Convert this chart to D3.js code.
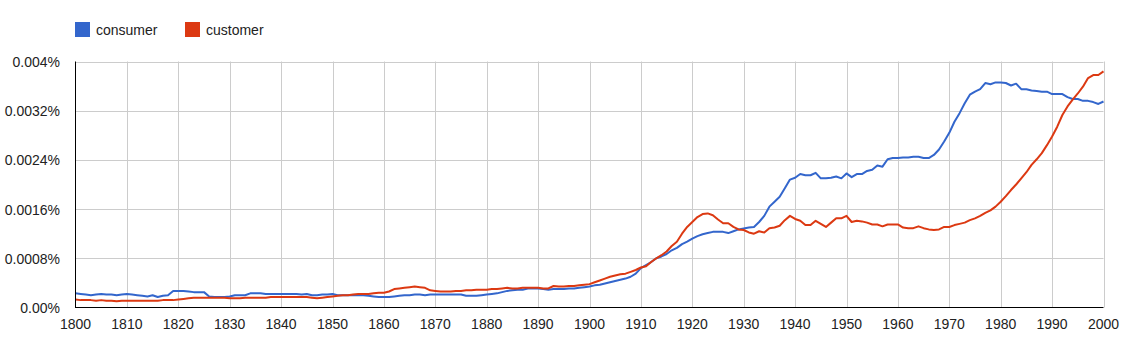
<!DOCTYPE html>
<html><head><meta charset="utf-8">
<script src="https://cdn.jsdelivr.net/npm/d3@7"></script>
<style>body{margin:0;background:#fff;} text{font-family:Arial,"Liberation Sans",sans-serif;}</style>
</head><body><svg id="c" width="1127" height="352"></svg>
<script>
const seriesNames = ["consumer", "customer"];
const seriesColors = ["#3366cc", "#dc3912"];
const startYear = 1800;
const consumer = [
.00023,.00022,.00021,.00020,.00021,.00022,.00021,.00021,.00020,.00021,
.00022,.00021,.00020,.00019,.00018,.00020,.00017,.00019,.00020,.00027,
.00027,.00027,.00026,.00025,.00025,.00025,.00018,.00017,.00017,.00017,
.00018,.00020,.00020,.00020,.00023,.00023,.00023,.00022,.00022,.00022,
.00022,.00022,.00022,.00022,.00021,.00022,.00020,.00020,.00021,.00021,
.00022,.00020,.00020,.00020,.00020,.00020,.00020,.00019,.00018,.00017,
.00017,.00017,.00018,.00019,.00020,.00020,.00021,.00021,.00020,.00021,
.00021,.00021,.00021,.00021,.00021,.00021,.00019,.00019,.00019,.00020,
.00021,.00022,.00023,.00025,.00027,.00028,.00029,.00029,.00031,.00031,
.00031,.00030,.00029,.00030,.00030,.00030,.00031,.00031,.00032,.00033,
.00034,.00036,.00037,.00039,.00041,.00043,.00045,.00047,.00050,.00055,
.00064,.00069,.00074,.00080,.00083,.00087,.00093,.00097,.00103,.00107,
.00112,.00116,.00119,.00121,.00123,.00123,.00123,.00121,.00124,.00127,
.001286,.00130,.00131,.00139,.00149,.00164,.00172,.00180,.00194,.00208,
.00211,.00217,.00215,.00215,.00219,.00210,.00210,.00211,.00213,.00210,
.00218,.00212,.00217,.00217,.00222,.00224,.00231,.00229,.00241,.00243,
.00243,.00244,.00244,.00245,.00245,.00243,.00243,.00248,.00257,.00270,
.00284,.00302,.00316,.00332,.00346,.00351,.00355,.00365,.00363,.00366,
.00366,.00365,.00361,.00364,.00355,.00355,.00353,.00352,.00351,.00351,
.00347,.00347,.00347,.00342,.00339,.00339,.00336,.00336,.00334,.00331,
.00335];
const customer = [
.00013,.00012,.00012,.00012,.00011,.00012,.00011,.00011,.00010,.00011,
.00011,.00011,.00011,.00011,.00011,.00011,.00011,.00012,.00012,.00012,
.00013,.00014,.00015,.00016,.00016,.00016,.00016,.00016,.00016,.00016,
.00015,.00015,.00015,.00016,.00016,.00016,.00016,.00016,.00017,.00017,
.00017,.00017,.00017,.00017,.00017,.00017,.00016,.00015,.00016,.00017,
.00018,.00019,.00020,.00020,.00021,.00022,.00022,.00022,.00023,.00024,
.00024,.00026,.00030,.00031,.00032,.00033,.00034,.00033,.00032,.00028,
.00027,.00026,.00026,.00026,.00027,.00027,.00028,.00028,.00029,.00029,
.00029,.00030,.00030,.00031,.00032,.00031,.00031,.00032,.00032,.00032,
.00032,.00031,.00031,.00035,.00034,.00034,.00035,.00035,.00036,.00037,
.00038,.00041,.00044,.00047,.00050,.00052,.00054,.00055,.00058,.00061,
.00065,.00067,.00074,.00080,.00085,.00091,.00100,.00107,.00120,.00131,
.00139,.00147,.00152,.00153,.00150,.00143,.00137,.00137,.00131,.00127,
.00126,.00122,.00120,.00124,.00122,.00129,.00130,.00133,.00142,.00149,
.00144,.00141,.00134,.00134,.00141,.00136,.00131,.00138,.00145,.00145,
.00149,.00139,.00141,.00140,.00138,.00135,.00135,.00132,.00135,.00135,
.00135,.00130,.00129,.00129,.00132,.00129,.00127,.00126,.00127,.00131,
.00131,.00134,.00136,.00138,.00142,.00145,.00149,.00154,.00158,.00164,
.00172,.00181,.00191,.00200,.00210,.00220,.00232,.00241,.00251,.00264,
.00278,.00294,.00313,.00327,.00338,.00348,.00359,.00373,.00378,.00378,
.00384];
const yTicks = [0, 0.0008, 0.0016, 0.0024, 0.0032, 0.004];
const yTickLabels = ["0.00%", "0.0008%", "0.0016%", "0.0024%", "0.0032%", "0.004%"];
const xTicks = d3.range(1800, 2001, 10);

const svg = d3.select("#c");
const x = d3.scaleLinear().domain([1800, 2000]).range([75.5, 1103.5]);
const y = d3.scaleLinear().domain([0, 0.004]).range([307.5, 61.5]);

// grid
svg.append("g").selectAll("line.v").data(xTicks.slice(1)).join("line")
  .attr("x1", d => Math.round(x(d)) + 0.5).attr("x2", d => Math.round(x(d)) + 0.5)
  .attr("y1", y(0.004)).attr("y2", y(0)).attr("stroke", "#cccccc");
svg.append("g").selectAll("line.h").data(yTicks.slice(1)).join("line")
  .attr("x1", x(1800)).attr("x2", x(2000))
  .attr("y1", d => Math.round(y(d)) + 0.5).attr("y2", d => Math.round(y(d)) + 0.5)
  .attr("stroke", "#cccccc");

// lines
const series = [consumer, customer];
const line = d3.line().x((d, i) => x(startYear + i)).y(d => y(d));
series.forEach((s, k) => {
  svg.append("path").datum(s).attr("d", line).attr("fill", "none")
    .attr("stroke", seriesColors[k]).attr("stroke-width", 2).attr("stroke-linejoin", "round");
});

// axes lines
svg.append("line").attr("x1", x(1800)).attr("x2", x(1800)).attr("y1", y(0.004)).attr("y2", y(0) + 0.5).attr("stroke", "#000");
svg.append("line").attr("x1", x(1800)).attr("x2", x(2000)).attr("y1", y(0)).attr("y2", y(0)).attr("stroke", "#000");

// axis labels
svg.append("g").selectAll("text").data(yTicks).join("text")
  .attr("x", 60).attr("y", d => y(d) + 5.5).attr("text-anchor", "end")
  .attr("font-size", 14).attr("fill", "#222").text((d, i) => yTickLabels[i]);
svg.append("g").selectAll("text").data(xTicks).join("text")
  .attr("x", d => x(d)).attr("y", 329).attr("text-anchor", "middle")
  .attr("font-size", 14).attr("fill", "#222").text(d => d);

// legend
const lg = svg.append("g");
const legX = [75, 185];
seriesNames.forEach((n, k) => {
  lg.append("rect").attr("x", legX[k]).attr("y", 22).attr("width", 15).attr("height", 15).attr("fill", seriesColors[k]);
  lg.append("text").attr("x", legX[k] + 21).attr("y", 35).attr("font-size", 14).attr("fill", "#222").text(n);
});
</script></body></html>
